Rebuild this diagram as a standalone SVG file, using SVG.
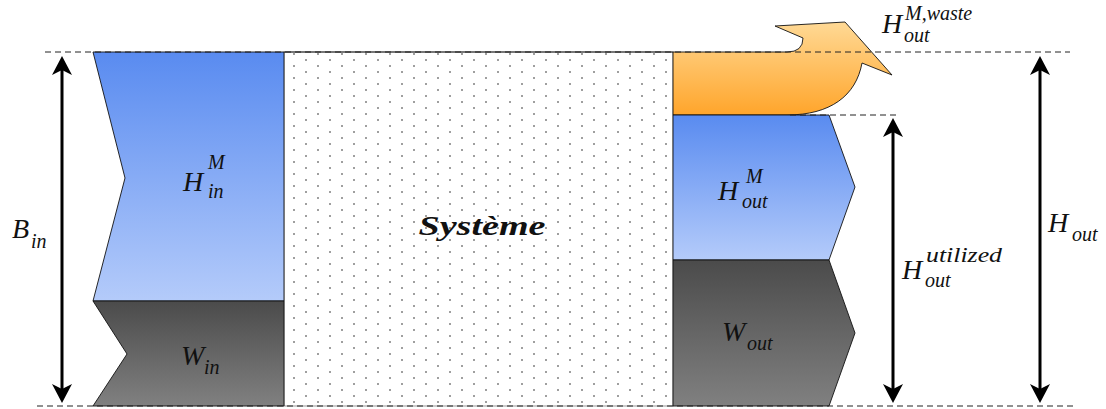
<svg xmlns="http://www.w3.org/2000/svg" xmlns:xlink="http://www.w3.org/1999/xlink" width="1106" height="409" viewBox="0 0 1106 409">
<style>
.shape{stroke:#111;stroke-width:0.9;stroke-linejoin:miter}
.dash{stroke:#222;stroke-width:1;stroke-dasharray:6 4;fill:none}
.arr{stroke:#000;stroke-width:3;fill:none}
.m{font-family:"Liberation Serif","DejaVu Serif",serif;font-style:italic;fill:#111}
.big{font-size:28px}
.sm{font-size:20px}
</style>
<defs>
<linearGradient id="gBlue" x1="0" y1="0" x2="0" y2="1">
<stop offset="0" stop-color="#598bf0"/><stop offset="1" stop-color="#b4cbfa"/>
</linearGradient>
<linearGradient id="gGray" x1="0" y1="0" x2="0" y2="1">
<stop offset="0" stop-color="#4b4b4b"/><stop offset="1" stop-color="#808080"/>
</linearGradient>
<linearGradient id="gOrange" x1="0" y1="0" x2="0" y2="1">
<stop offset="0" stop-color="#ffd995"/><stop offset="1" stop-color="#ffa52b"/>
</linearGradient>
<pattern id="dots" patternUnits="userSpaceOnUse" x="293" y="47" width="24" height="12">
<rect x="0" y="6" width="2" height="2" fill="#9f9f9f"/>
<rect x="12" y="0" width="2" height="2" fill="#9f9f9f"/>
</pattern>
<path id="head" d="M0,0 L10,19 L0,14 L-10,19 Z" fill="#000"/>
</defs>

<g id="system">
<rect x="284" y="52" width="389" height="354" fill="#fff"/>
<rect x="284" y="52" width="389" height="354" fill="url(#dots)" stroke="#999" stroke-width="1"/>
<line x1="284" y1="52" x2="673" y2="52" stroke="#222" stroke-width="1"/>
<text class="m" x="482" y="235" font-size="28" font-weight="bold" text-anchor="middle" textLength="127" lengthAdjust="spacingAndGlyphs">Système</text>
</g>

<g id="H_in">
<polygon class="shape" points="93,52 284,52 284,301 93,301 125,178" fill="url(#gBlue)"/>
<text class="m big" x="183" y="191">H</text>
<text class="m sm" x="208" y="169">M</text>
<text class="m sm" x="208" y="198">in</text>
</g>

<g id="W_in">
<polygon class="shape" points="93,301 284,301 284,406 93,406 127,354" fill="url(#gGray)"/>
<text class="m big" x="181" y="365">W</text>
<text class="m sm" x="204" y="374">in</text>
</g>

<g id="H_out_waste">
<path class="shape" d="M673,52 L787,52 Q803,52 803,38 L775,26 L845,22 L892,75 L862,63 C856,96 830,115 787,115 L673,115 Z" fill="url(#gOrange)"/>
<text class="m big" x="882" y="33">H</text>
<text class="m sm" x="905" y="20">M,waste</text>
<text class="m sm" x="904" y="42">out</text>
</g>

<g id="H_out_M">
<polygon class="shape" points="673,115 829,115 855,187 829,260 673,260" fill="url(#gBlue)"/>
<text class="m big" x="718" y="200">H</text>
<text class="m sm" x="746" y="183">M</text>
<text class="m sm" x="742" y="208">out</text>
</g>

<g id="W_out">
<polygon class="shape" points="673,260 829,260 855,333 829,406 673,406" fill="url(#gGray)"/>
<text class="m big" x="722" y="341">W</text>
<text class="m sm" x="747" y="350">out</text>
</g>

<g id="labels">
<text class="m big" x="12" y="238">B</text>
<text class="m sm" x="31" y="248">in</text>
<text class="m big" x="902" y="279">H</text>
<text class="m sm" x="926" y="262" textLength="76" lengthAdjust="spacingAndGlyphs">utilized</text>
<text class="m sm" x="925" y="287">out</text>
<text class="m big" x="1048" y="232">H</text>
<text class="m sm" x="1072" y="241">out</text>
</g>

<g id="connectors">
<line class="dash" x1="45" y1="52" x2="1070" y2="52"/>
<line class="dash" x1="37" y1="406" x2="1075" y2="406"/>
<line class="dash" x1="790" y1="115" x2="897" y2="115"/>
<line class="arr" x1="62" y1="66" x2="62" y2="393"/>
<use xlink:href="#head" transform="translate(62,56)"/>
<use xlink:href="#head" transform="translate(62,403) rotate(180)"/>
<line class="arr" x1="893" y1="129" x2="893" y2="393"/>
<use xlink:href="#head" transform="translate(893,118)"/>
<use xlink:href="#head" transform="translate(893,403) rotate(180)"/>
<line class="arr" x1="1040" y1="66" x2="1040" y2="393"/>
<use xlink:href="#head" transform="translate(1040,56)"/>
<use xlink:href="#head" transform="translate(1040,403) rotate(180)"/>
</g>
</svg>
